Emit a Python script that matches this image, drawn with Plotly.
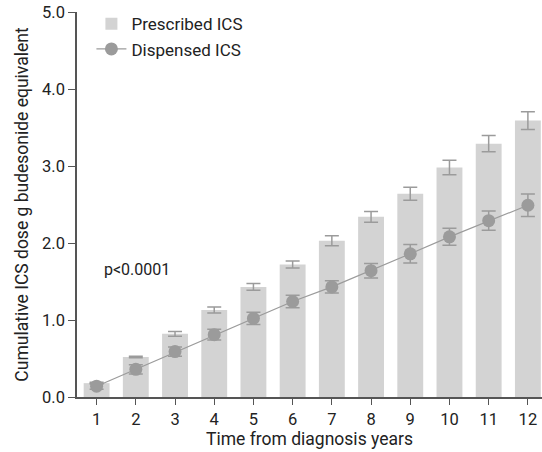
import plotly.graph_objects as go

years = [1, 2, 3, 4, 5, 6, 7, 8, 9, 10, 11, 12]
prescribed = [0.18, 0.52, 0.82, 1.13, 1.43, 1.72, 2.03, 2.34, 2.64, 2.98, 3.29, 3.59]
prescribed_err = [0.01, 0.01, 0.03, 0.04, 0.045, 0.045, 0.065, 0.07, 0.085, 0.095, 0.105, 0.115]
dispensed = [0.14, 0.36, 0.59, 0.81, 1.02, 1.24, 1.43, 1.64, 1.86, 2.08, 2.29, 2.49]
dispensed_err = [0.04, 0.06, 0.06, 0.07, 0.08, 0.08, 0.08, 0.095, 0.12, 0.11, 0.125, 0.145]
y_ticks = [0, 1, 2, 3, 4, 5]

BAR_COLOR = "#d3d3d3"
DOT_COLOR = "#9b9b9b"
FONT = "Roboto"

fig = go.Figure()
fig.add_trace(go.Bar(
    x=years, y=prescribed, name="Prescribed ICS",
    width=0.66, marker=dict(color=BAR_COLOR, line=dict(width=0)),
    error_y=dict(type="data", array=prescribed_err, color=DOT_COLOR,
                 thickness=1.5, width=7),
))
fig.add_trace(go.Scatter(
    x=years, y=dispensed, name="Dispensed ICS", mode="lines+markers",
    line=dict(color=DOT_COLOR, width=1.2),
    marker=dict(color=DOT_COLOR, size=13),
    error_y=dict(type="data", array=dispensed_err, color=DOT_COLOR,
                 thickness=1.5, width=7),
))

fig.add_annotation(x=1.15, y=1.65, text="p<0.0001", showarrow=False,
                   xanchor="left", yanchor="middle",
                   font=dict(size=16, color="#222", family=FONT))

fig.update_layout(
    width=542, height=452,
    margin=dict(l=77, r=0, t=12, b=55),
    plot_bgcolor="white", paper_bgcolor="white",
    font=dict(family=FONT, size=15, color="#222"),
    showlegend=True,
    legend=dict(x=0.031, y=1.015, xanchor="left", yanchor="top",
                bgcolor="rgba(0,0,0,0)", font=dict(size=17),
                tracegroupgap=4),
    xaxis=dict(range=[0.5, 12.36], tickvals=years, ticks="outside",
               ticklen=6, tickcolor="#555", showline=True, linecolor="#555",
               linewidth=1.5, showgrid=False, zeroline=False,
               tickfont=dict(size=16.5),
               title=dict(text="Time from diagnosis years", standoff=5,
                          font=dict(size=17.5))),
    yaxis=dict(range=[0, 5], tickvals=y_ticks, tickformat=".1f",
               ticks="outside", ticklen=7, tickcolor="#555", showline=True,
               linecolor="#555", linewidth=1.5, showgrid=False,
               zeroline=False, tickfont=dict(size=16.5),
               title=dict(text="Cumulative ICS dose g budesonide equivalent",
                          standoff=9, font=dict(size=17.5))),
)

fig.write_html("out.html")
